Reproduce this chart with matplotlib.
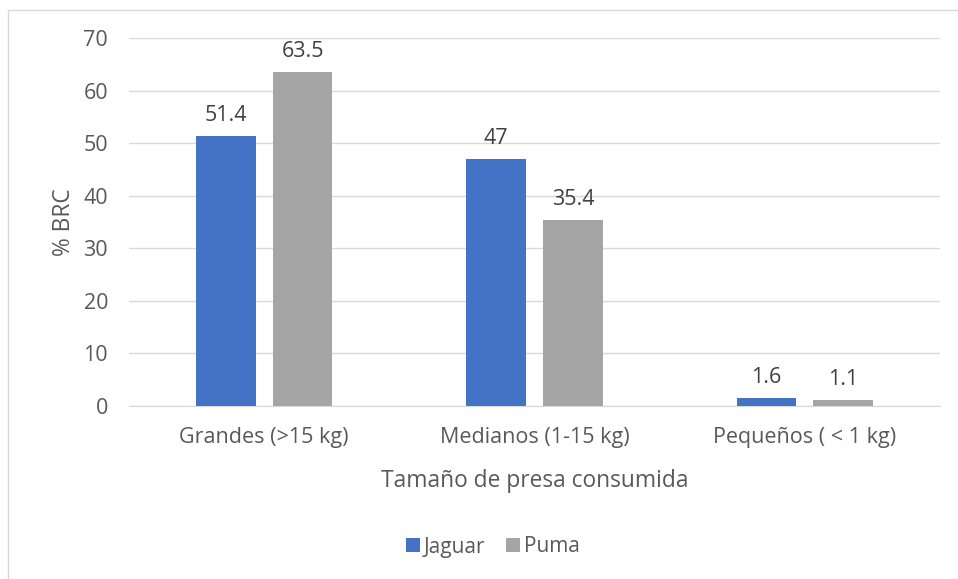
import matplotlib
matplotlib.use("Agg")
import matplotlib.pyplot as plt
import numpy as np
from matplotlib.patches import Rectangle

categorias = ["Grandes (>15 kg)", "Medianos (1-15 kg)", "Pequeños ( < 1 kg)"]
jaguar = [51.4, 47, 1.6]
puma = [63.5, 35.4, 1.1]
etiquetas_jaguar = ["51.4", "47", "1.6"]
etiquetas_puma = ["63.5", "35.4", "1.1"]

plt.rcParams['font.family'] = ['Open Sans', 'DejaVu Sans']
gris_texto = '#595959'

fig = plt.figure(figsize=(9.58, 5.79), dpi=100)
ax = fig.add_axes([129/958, 1 - 406/579, (940-129)/958, (406-38)/579])

x = np.arange(len(categorias))
ancho = 0.221
desp = 0.142
b1 = ax.bar(x - desp, jaguar, ancho, color='#4472C4', label='Jaguar', zorder=3)
b2 = ax.bar(x + desp, puma, ancho, color='#A5A5A5', label='Puma', zorder=3)

for barras, etiquetas in [(b1, etiquetas_jaguar), (b2, etiquetas_puma)]:
    for b, t in zip(barras, etiquetas):
        ax.annotate(t, (b.get_x() + b.get_width()/2, b.get_height()),
                    xytext=(0, 7), textcoords='offset points',
                    ha='center', va='bottom', fontsize=15.5, color='#404040')

ax.set_xlim(-0.5, 2.5)
ax.set_ylim(0, 70)
ax.set_yticks(range(0, 71, 10))
ax.set_xticks(x)
ax.set_xticklabels(categorias)
ax.grid(axis='y', color='#D9D9D9', linewidth=1, zorder=0)
for s in ['top', 'right', 'left']:
    ax.spines[s].set_visible(False)
ax.spines['bottom'].set_color('#D9D9D9')
ax.tick_params(axis='both', length=0, labelsize=15.5, labelcolor=gris_texto)
ax.tick_params(axis='y', pad=15)
ax.tick_params(axis='x', pad=15)

ax.set_xlabel("Tamaño de presa consumida", fontsize=16.4, color=gris_texto, labelpad=15)
ax.set_ylabel("% BRC", fontsize=16.4, color=gris_texto, labelpad=5)

fig.legend(loc='center', bbox_to_anchor=(493/958, 1 - 547/579), ncol=2, frameon=False,
           fontsize=15, labelcolor=gris_texto, handlelength=0.65, handleheight=0.65,
           handletextpad=0.2, columnspacing=1.0)

fig.patches.append(Rectangle((8/958, -0.01), 1.0, 1 - 10/579 + 0.01, transform=fig.transFigure,
                             fill=False, edgecolor='#D9D9D9', linewidth=1))

fig.savefig("out.png", dpi=100)
